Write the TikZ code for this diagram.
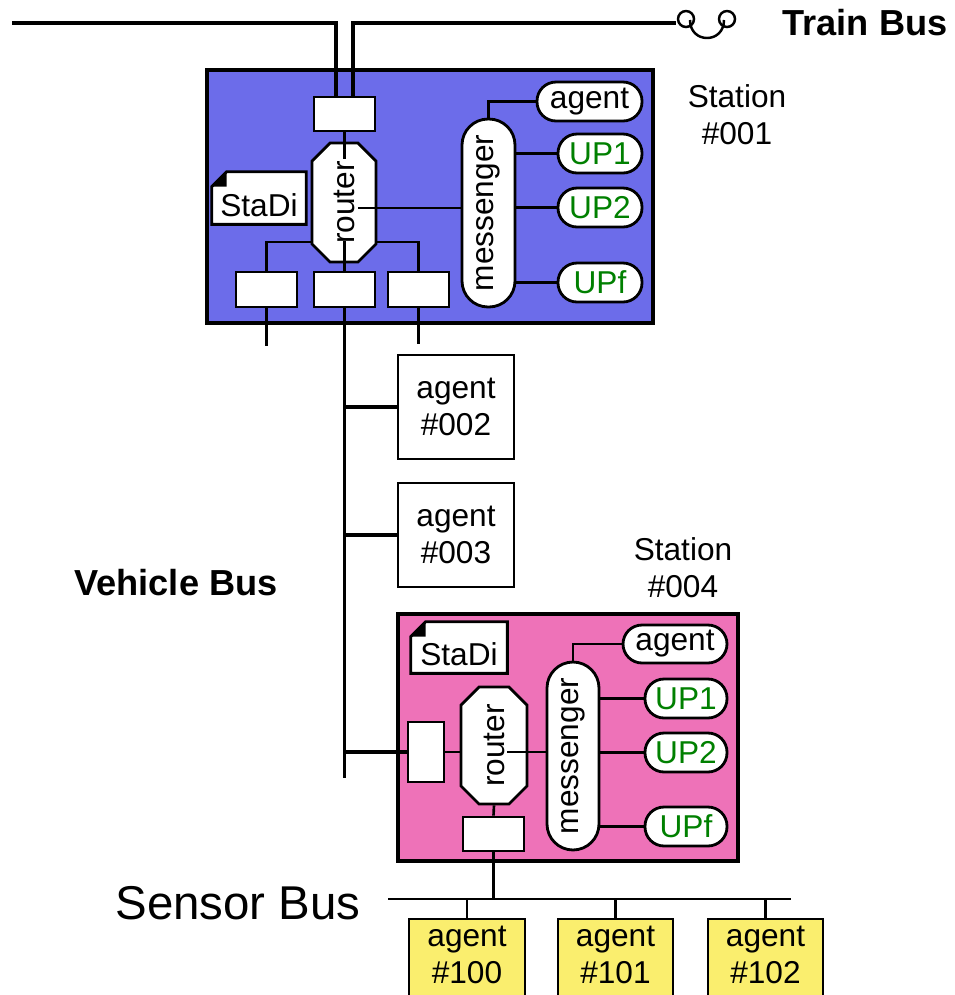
\documentclass[tikz,border=0pt]{standalone}
\usepackage{fontspec}
\setmainfont{Liberation Sans}
\usepackage{tikz}
\usetikzlibrary{shapes.misc,calc}
\usepackage{xcolor}

\definecolor{stablue}{RGB}{108,108,234}
\definecolor{stapink}{RGB}{238,114,184}
\definecolor{agyellow}{RGB}{250,238,110}
\definecolor{upgreen}{RGB}{0,128,0}

% document symbol with a folded corner, drawn over a node
\newcommand{\docfold}[2]{%
  \fill[#2] (#1.north west) -- ++(0.3cm,0) -- ++(-0.3cm,-0.3cm) -- cycle;
  \fill[black] ([xshift=0.3cm]#1.north west) -- ++(0,-0.3cm) -- ++(-0.3cm,0) -- cycle;
  \draw[line width=1.6pt] ([xshift=0.3cm]#1.north west) -- (#1.north east) -- (#1.south east)
    -- (#1.south west) -- ([yshift=-0.3cm]#1.north west) -- cycle;
}

\begin{document}
\begin{tikzpicture}[x=0.02cm,y=-0.02cm,
  box/.style={draw,line width=1.6pt},
  wire/.style={line width=1.5pt},
  bus/.style={line width=1.8pt},
  trainbus/.style={line width=2.8pt},
  lbl/.style={font=\fontsize{18}{21}\selectfont},
  port/.style={box,fill=white,inner sep=0pt,minimum width=1.22cm,minimum height=0.7cm},
  router/.style={box,fill=white,shape=chamfered rectangle,chamfered rectangle xsep=0.16cm,
    chamfered rectangle ysep=0.2cm,inner sep=0pt,lbl},
  msgr/.style={box,fill=white,rounded corners=0.52cm,minimum width=1.06cm,
    minimum height=3.76cm,inner sep=0pt,lbl},
  pill/.style={box,fill=white,rounded corners=0.38cm,minimum height=0.78cm,inner sep=0pt,lbl},
  up/.style={pill,minimum width=1.68cm,text=upgreen},
  doc/.style={fill=white,inner sep=0pt,lbl,minimum width=1.88cm,minimum height=1.04cm,
    text height=0.72cm,text depth=0pt},
  agentbox/.style={box,fill=white,minimum width=2.32cm,minimum height=2.08cm,align=center,lbl},
  sensorbox/.style={box,fill=agyellow,minimum width=2.3cm,minimum height=1.84cm},
]
  \useasboundingbox (0,0) rectangle (955,995);
  \clip (0,0) rectangle (955,995);

  % Station #001
  \node[box,line width=1.8pt,fill=stablue,minimum width=8.92cm,minimum height=5.06cm] (sta1) at (430,196.5) {};
  \node[port,minimum height=0.68cm] (tport1) at (344.5,114) {};
  \node[router,minimum width=1.28cm,minimum height=2.38cm] (router1) at (344,202.5) {\rotatebox{90}{router}};
  \node[doc] (sd1) at (259,198) {StaDi};
  \docfold{sd1}{stablue}
  \node[port] (bpA) at (266.5,289.5) {};
  \node[port] (bpB) at (344.5,289.5) {};
  \node[port] (bpC) at (418.5,289.5) {};
  \node[msgr] (msgr1) at (488.5,213) {\rotatebox{90}{messenger}};
  \node[pill,minimum width=2.1cm] (ag1) at (589.5,101.5) {agent};
  \node[up] (up11) at (600,153.5) {UP1};
  \node[up] (up12) at (600,207.5) {UP2};
  \node[up] (up1f) at (600,282.5) {UPf};
  \node[lbl,align=center] (st1) at (737,115) {Station\\\#001};

  \coordinate (r1l) at (312,242);
  \coordinate (r1r) at (376,242);
  \coordinate (r1m) at (358,208);
  \draw[wire] (tport1.south) -- ++(0,27);
  \draw[wire] (bpA.north) |- (r1l);
  \draw[wire] (bpC.north) |- (r1r);
  \draw[wire] (bpB.north) -- ++(0,-30);
  \draw[wire] (r1m) -- (r1m -| msgr1.west);
  \draw[wire] (msgr1.north) |- (ag1.west);
  \foreach \u in {up11,up12,up1f}
    \draw[wire] (\u.west -| msgr1.east) -- (\u.west);
  \draw[wire] (bpA.south) -- ++(0,38);
  \draw[wire] (bpC.south) -- ++(0,36);

  % Train Bus
  \coordinate (tbl) at (12,23);
  \coordinate (tbr) at (676,23);
  \draw[trainbus] ([xshift=-0.17cm]tport1.north) |- (tbl);
  \draw[trainbus] ([xshift=0.17cm]tport1.north) |- (tbr);
  \draw[line width=1.4pt] (686,19) circle (0.16cm) (727,19) circle (0.16cm);
  \draw[line width=1.4pt] (690,20) .. controls (690,44) and (724,44) .. (724,20);
  \node[font=\fontsize{20.6}{24}\selectfont\bfseries] (tblabel) at (865,23) {Train Bus};

  % Vehicle Bus
  \coordinate (vbend) at (345,778);
  \draw[bus] (bpB.south) -- (bpB.south |- vbend);
  \node[agentbox] (a002) at (456,407) {agent\\\#002};
  \node[agentbox] (a003) at (456,535) {agent\\\#003};
  \draw[bus] (a002.west) -- (a002.west -| vbend);
  \draw[bus] (a003.west) -- (a003.west -| vbend);
  \node[font=\fontsize{20.6}{24}\selectfont\bfseries] (vblabel) at (176,583) {Vehicle Bus};

  % Station #004
  \node[lbl,align=center] (st4) at (683,568) {Station\\\#004};
  \node[box,line width=1.8pt,fill=stapink,minimum width=6.8cm,minimum height=4.94cm] (sta4) at (568,737.5) {};
  \node[doc,minimum width=1.92cm,minimum height=1.02cm] (sd2) at (459,647.5) {StaDi};
  \docfold{sd2}{stapink}
  \node[port,minimum width=0.72cm,minimum height=1.2cm] (lport2) at (426,752) {};
  \node[router,minimum width=1.32cm,minimum height=2.34cm] (router2) at (494,745.5) {\rotatebox{90}{router}};
  \node[port,minimum height=0.68cm] (bport2) at (493.5,834) {};
  \node[msgr,minimum width=1.04cm] (msgr2) at (573,756) {\rotatebox{90}{messenger}};
  \node[pill,minimum width=2.08cm,minimum height=0.76cm] (ag4) at (675,644) {agent};
  \node[up,minimum width=1.64cm] (up41) at (686,698.5) {UP1};
  \node[up,minimum width=1.64cm] (up42) at (686,752.5) {UP2};
  \node[up,minimum width=1.64cm] (up4f) at (686,826.5) {UPf};

  \draw[bus] (lport2.west) -- (lport2.west -| vbend);
  \draw[wire] (lport2.east) -- (lport2.east -| router2.west);
  \draw[wire] (lport2.east -| router2.center) ++(13,0) -- (lport2.east -| msgr2.west);
  \draw[wire] (router2.south) -- (bport2.north);
  \draw[wire] (msgr2.north) |- (ag4.west);
  \foreach \u in {up41,up42,up4f}
    \draw[wire] (\u.west -| msgr2.east) -- (\u.west);

  % Sensor Bus
  \coordinate (sbl) at (388,899);
  \coordinate (sbr) at (791,899);
  \draw[wire] (sbl) -- (sbr);
  \draw[wire] (bport2.south) -- (bport2.south |- sbl);
  \node[sensorbox,minimum width=2.32cm] (y100) at (467,965) {};
  \node[sensorbox] (y101) at (615.5,965) {};
  \node[sensorbox] (y102) at (765.5,965) {};
  \foreach \n/\t in {y100/100,y101/101,y102/102} {
    \draw[wire] (\n.north) -- (\n.north |- sbl);
    \node[lbl,align=center,anchor=north] (t\t) at ([yshift=-0.04cm]\n.north) {agent\\\#\t};
  }
  \node[font=\fontsize{27}{32}\selectfont] (sblabel) at (238,903) {Sensor Bus};
\end{tikzpicture}
\end{document}
